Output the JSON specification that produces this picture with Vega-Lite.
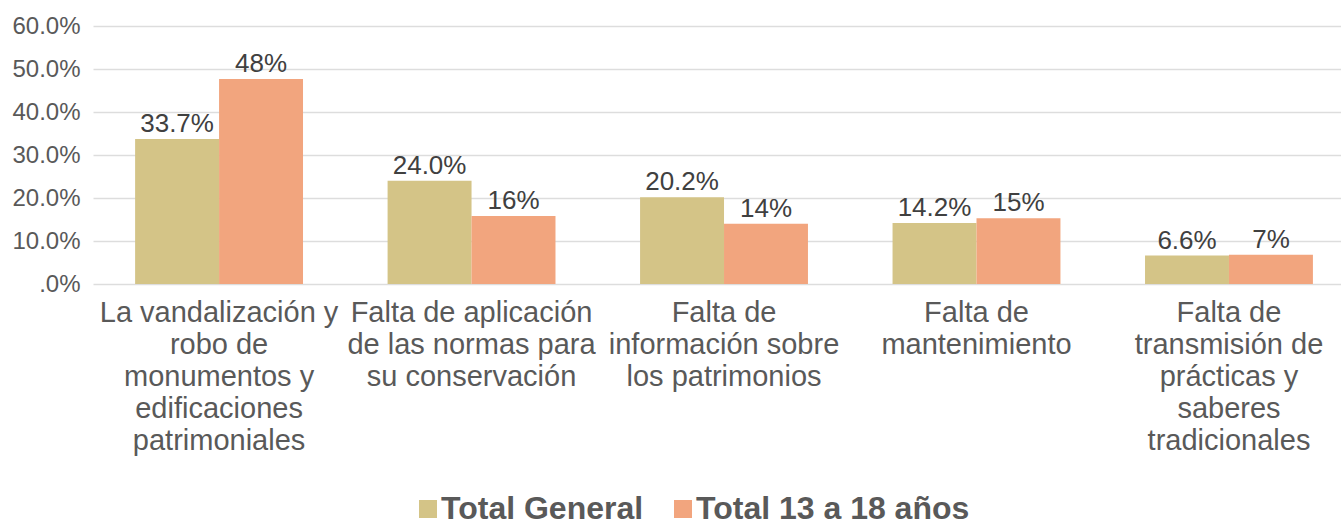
{
  "$schema": "https://vega.github.io/schema/vega-lite/v6.json",
  "autosize": "none",
  "width": 1248,
  "height": 258,
  "padding": {"left": 93, "top": 26, "right": 0, "bottom": 241},
  "background": "white",
  "config": {"view": {"stroke": null}, "font": "Liberation Sans"},
  "data": {"values": [
    {"cat": "La vandalización y|robo de|monumentos y|edificaciones|patrimoniales", "serie": "Total General", "v": 0.337},
    {"cat": "La vandalización y|robo de|monumentos y|edificaciones|patrimoniales", "serie": "Total 13 a 18 años", "v": 0.477},
    {"cat": "Falta de aplicación|de las normas para|su conservación", "serie": "Total General", "v": 0.240},
    {"cat": "Falta de aplicación|de las normas para|su conservación", "serie": "Total 13 a 18 años", "v": 0.158},
    {"cat": "Falta de|información sobre|los patrimonios", "serie": "Total General", "v": 0.202},
    {"cat": "Falta de|información sobre|los patrimonios", "serie": "Total 13 a 18 años", "v": 0.140},
    {"cat": "Falta de|mantenimiento", "serie": "Total General", "v": 0.142},
    {"cat": "Falta de|mantenimiento", "serie": "Total 13 a 18 años", "v": 0.153},
    {"cat": "Falta de|transmisión de|prácticas y|saberes|tradicionales", "serie": "Total General", "v": 0.066},
    {"cat": "Falta de|transmisión de|prácticas y|saberes|tradicionales", "serie": "Total 13 a 18 años", "v": 0.068}
  ]},
  "encoding": {
    "x": {"field": "cat", "type": "nominal",
      "sort": ["La vandalización y|robo de|monumentos y|edificaciones|patrimoniales", "Falta de aplicación|de las normas para|su conservación", "Falta de|información sobre|los patrimonios", "Falta de|mantenimiento", "Falta de|transmisión de|prácticas y|saberes|tradicionales"],
      "scale": {"paddingInner": 0.335, "paddingOuter": 0.139, "align": 0.6},
      "axis": {"title": null, "labelAngle": 0, "domain": false, "ticks": false,
        "labelExpr": "split(datum.value, '|')", "labelFontSize": 29, "labelLineHeight": 32,
        "labelColor": "#595959", "labelPadding": 14, "labelBaseline": "top", "labelLimit": 400}},
    "xOffset": {"field": "serie", "type": "nominal", "sort": ["Total General", "Total 13 a 18 años"], "scale": {"paddingInner": 0, "paddingOuter": 0}},
    "y": {"field": "v", "type": "quantitative",
      "scale": {"domain": [0, 0.6], "nice": false},
      "axis": {"title": null, "values": [0, 0.1, 0.2, 0.3, 0.4, 0.5, 0.6],
        "labelExpr": "datum.value == 0 ? '.0%' : format(datum.value, '.1%')",
        "labelFontSize": 24, "labelColor": "#595959", "labelPadding": 13,
        "domain": false, "ticks": false, "gridColor": "#DDDDDD", "gridWidth": 1.5}}
  },
  "layer": [
    {"mark": {"type": "bar"},
     "encoding": {"color": {"field": "serie", "type": "nominal",
        "sort": ["Total General", "Total 13 a 18 años"],
        "scale": {"domain": ["Total General", "Total 13 a 18 años"], "range": ["#D4C487", "#F2A57E"]},
        "legend": {"title": null, "orient": "none", "legendX": 319, "legendY": 467, "direction": "horizontal",
          "symbolType": "square", "symbolSize": 324, "symbolStrokeWidth": 0, "labelFontSize": 32, "labelFontWeight": "bold",
          "labelColor": "#595959", "labelOffset": -3, "columnPadding": 23, "labelLimit": 500}}}},
    {"transform": [{"filter": "datum.serie == 'Total General'"}],
     "mark": {"type": "text", "baseline": "bottom", "dy": -2, "fontSize": 26, "color": "#404040"},
     "encoding": {"text": {"field": "v", "type": "quantitative", "format": ".1%"}}},
    {"transform": [{"filter": "datum.serie == 'Total 13 a 18 años'"}],
     "mark": {"type": "text", "baseline": "bottom", "dy": -2, "fontSize": 26, "color": "#404040"},
     "encoding": {"text": {"field": "v", "type": "quantitative", "format": ".0%"}}}
  ]
}
